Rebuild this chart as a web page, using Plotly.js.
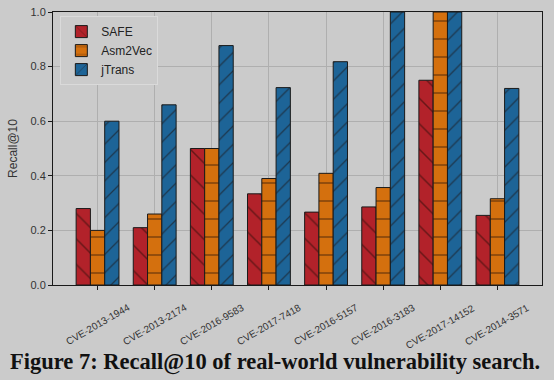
<!DOCTYPE html>
<html>
<head>
<meta charset="utf-8">
<script src="https://cdn.plot.ly/plotly-3.0.1.min.js"></script>
<style>
html,body{margin:0;padding:0;background:#cbcbcb;}
#chart{width:554px;height:380px;}
</style>
</head>
<body>
<div id="chart"></div>
<script>
const categories = ["CVE-2013-1944","CVE-2013-2174","CVE-2016-9583","CVE-2017-7418","CVE-2016-5157","CVE-2016-3183","CVE-2017-14152","CVE-2014-3571"];
const safe    = [0.28, 0.21, 0.50, 0.334, 0.267, 0.286, 0.75, 0.255];
const asm2vec = [0.20, 0.26, 0.50, 0.39, 0.409, 0.357, 1.00, 0.316];
const jtrans  = [0.60, 0.66, 0.877, 0.723, 0.818, 1.00, 1.00, 0.72];
const yTicks = [0, 0.2, 0.4, 0.6, 0.8, 1.0];

const lineCol = '#1a1a1a';
function tr(name, y, color, shape, size, solidity){
  return {
    type:'bar', name:name, x:categories, y:y,
    marker:{color:color, line:{color:lineCol, width:1},
      pattern:{shape:shape, size:size, solidity:solidity, fgcolor:'#1e0c06', bgcolor:color, fillmode:'overlay'}},
    hoverinfo:'skip'
  };
}
const data = [
  tr('SAFE', safe, '#b2222a', '\\', 18, 0.085),
  tr('Asm2Vec', asm2vec, '#d4700e', '-', 18, 0.08),
  tr('jTrans', jtrans, '#1d6497', '/', 13, 0.1)
];
const tickAnnots = categories.map(c => ({
  text:c, xref:'x', yref:'paper', x:c, y:-0.052, xanchor:'center', yanchor:'top',
  textangle:-30, showarrow:false, font:{size:10, color:'#333', family:'Liberation Sans, Arial, sans-serif'}
}));
const layout = {
  width:554, height:380,
  paper_bgcolor:'#cbcbcb', plot_bgcolor:'#cbcbcb',
  margin:{l:53, r:12, t:12, b:95, pad:0},
  barmode:'group', bargap:0.25, bargroupgap:0,
  font:{family:'Liberation Sans, Arial, sans-serif', color:'#333', size:11},
  showlegend:true,
  legend:{x:0.015, y:0.985, xanchor:'left', yanchor:'top', bgcolor:'#cbcbcb', bordercolor:'#dadada', borderwidth:1,
    font:{size:12, color:'#222'}, tracegroupgap:0},
  xaxis:{type:'category', range:[-0.78, 7.78], showticklabels:false,
    showgrid:true, gridcolor:'#afafaf', gridwidth:1,
    showline:true, mirror:true, linecolor:lineCol, linewidth:1,
    ticks:'outside', ticklen:4, tickcolor:lineCol, zeroline:false},
  yaxis:{range:[0,1.0], tickvals:yTicks, tickformat:'.1f', tickfont:{size:11, color:'#333'},
    title:{text:'Recall@10', font:{size:12, color:'#333'}, standoff:10},
    showgrid:true, gridcolor:'#afafaf', gridwidth:1,
    showline:true, mirror:true, linecolor:lineCol, linewidth:1,
    ticks:'outside', ticklen:4, tickcolor:lineCol, zeroline:false},
  annotations:tickAnnots.concat([{
    text:'<b>Figure 7: Recall@10 of real-world vulnerability search.</b>',
    xref:'paper', yref:'paper', x:0.454, y:-0.282, xanchor:'center', yanchor:'middle',
    showarrow:false, font:{family:'Liberation Serif, Times New Roman, serif', size:22.5, color:'#111'}
  }])
};
Plotly.newPlot('chart', data, layout, {displayModeBar:false, staticPlot:true});
</script>
</body>
</html>
